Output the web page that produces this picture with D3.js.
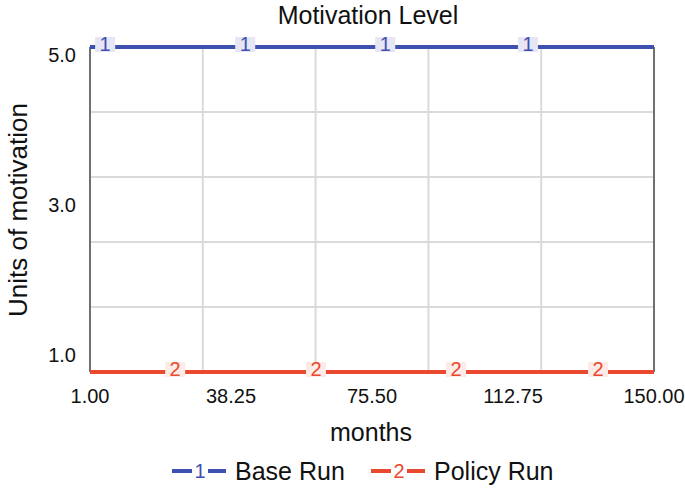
<!DOCTYPE html>
<html>
<head>
<meta charset="utf-8">
<script src="https://cdn.jsdelivr.net/npm/d3@7"></script>
<style>
  body { margin: 0; background: #fff; }
  text { font-family: "Liberation Sans", Arial, sans-serif; fill: #111; }
</style>
</head>
<body>
<script>
var width = 685;
var height = 493;

// data
var months = [1, 150];
var baseRun = [5, 5];
var policyRun = [1, 1];
var xTicks = [1, 38.25, 75.5, 112.75, 150];
var yTickLabels = ['5.0', '3.0', '1.0'];
var baseMarks = [5, 42, 79, 116.7];
var policyMarks = [23.5, 60.7, 97.7, 135.2];

var blue = '#3f51b0';
var red = '#e8492f';

var x = d3.scaleLinear().domain([1, 150]).range([90, 654]);
var y = d3.scaleLinear().domain([1, 5]).range([372, 47]);
// y labels are spread evenly, kept inside the frame
var yLab = d3.scaleLinear().domain([0, yTickLabels.length - 1]).range([55, 355]);

var svg = d3.select('body').append('svg')
  .attr('width', width)
  .attr('height', height);

// grid
svg.append('g').selectAll('line')
  .data(d3.range(6))
  .enter().append('line')
  .attr('x1', x(1)).attr('x2', x(150))
  .attr('y1', function(d) { return y(1 + d * 0.8); })
  .attr('y2', function(d) { return y(1 + d * 0.8); })
  .attr('stroke', '#dadada').attr('stroke-width', 2);

svg.append('g').selectAll('line')
  .data(d3.range(1, 5))
  .enter().append('line')
  .attr('x1', function(d) { return x(1 + d * 149 / 5); })
  .attr('x2', function(d) { return x(1 + d * 149 / 5); })
  .attr('y1', y(5)).attr('y2', y(1))
  .attr('stroke', '#dadada').attr('stroke-width', 2);

// frame sides
[1, 150].forEach(function(v) {
  svg.append('line')
    .attr('x1', x(v)).attr('x2', x(v))
    .attr('y1', y(5)).attr('y2', y(1))
    .attr('stroke', '#707070').attr('stroke-width', 2);
});

var line = d3.line()
  .x(function(d) { return x(d[0]); })
  .y(function(d) { return y(d[1]); });

var drawSeries = function(vals, color, marks, label, bg) {
  svg.append('path')
    .datum(months.map(function(m, i) { return [m, vals[i]]; }))
    .attr('d', line)
    .attr('fill', 'none')
    .attr('stroke', color)
    .attr('stroke-width', 4);

  var g = svg.append('g').selectAll('g')
    .data(marks)
    .enter().append('g')
    .attr('transform', function(d) { return 'translate(' + x(d) + ',' + y(vals[0]) + ')'; });
  g.append('rect')
    .attr('x', -10).attr('y', -10).attr('width', 20).attr('height', 15)
    .attr('fill', bg);
  g.append('text')
    .attr('text-anchor', 'middle')
    .attr('y', 4)
    .style('font-size', '20px')
    .style('fill', color)
    .text(label);
};

drawSeries(baseRun, blue, baseMarks, '1', '#e6e6f4');
drawSeries(policyRun, red, policyMarks, '2', '#fcebe6');

// tick labels
svg.append('g').selectAll('text')
  .data(xTicks)
  .enter().append('text')
  .attr('x', function(d) { return x(d); })
  .attr('y', 403)
  .attr('text-anchor', 'middle')
  .style('font-size', '20px')
  .text(function(d) { return d3.format('.2f')(d); });

svg.append('g').selectAll('text')
  .data(yTickLabels)
  .enter().append('text')
  .attr('x', 76)
  .attr('y', function(d, i) { return yLab(i) + 7; })
  .attr('text-anchor', 'end')
  .style('font-size', '20px')
  .text(function(d) { return d; });

// titles
svg.append('text')
  .attr('x', 368).attr('y', 24)
  .attr('text-anchor', 'middle')
  .style('font-size', '25px')
  .text('Motivation Level');

svg.append('text')
  .attr('x', 371).attr('y', 441)
  .attr('text-anchor', 'middle')
  .style('font-size', '25px')
  .text('months');

svg.append('text')
  .attr('transform', 'translate(27,210) rotate(-90)')
  .attr('text-anchor', 'middle')
  .style('font-size', '26px')
  .text('Units of motivation');

// legend
var legend = [
  {x: 172, label: '1', name: 'Base Run', color: blue},
  {x: 371, label: '2', name: 'Policy Run', color: red}
];
var lg = svg.append('g').selectAll('g')
  .data(legend)
  .enter().append('g')
  .attr('transform', function(d) { return 'translate(' + d.x + ',471)'; });
lg.append('line')
  .attr('x1', 0).attr('x2', 20).attr('y1', 0).attr('y2', 0)
  .attr('stroke', function(d) { return d.color; }).attr('stroke-width', 4);
lg.append('line')
  .attr('x1', 36).attr('x2', 54).attr('y1', 0).attr('y2', 0)
  .attr('stroke', function(d) { return d.color; }).attr('stroke-width', 4);
lg.append('text')
  .attr('x', 28).attr('y', 7)
  .attr('text-anchor', 'middle')
  .style('font-size', '20px')
  .style('fill', function(d) { return d.color; })
  .text(function(d) { return d.label; });
lg.append('text')
  .attr('x', 63).attr('y', 9)
  .style('font-size', '25px')
  .text(function(d) { return d.name; });
</script>
</body>
</html>
